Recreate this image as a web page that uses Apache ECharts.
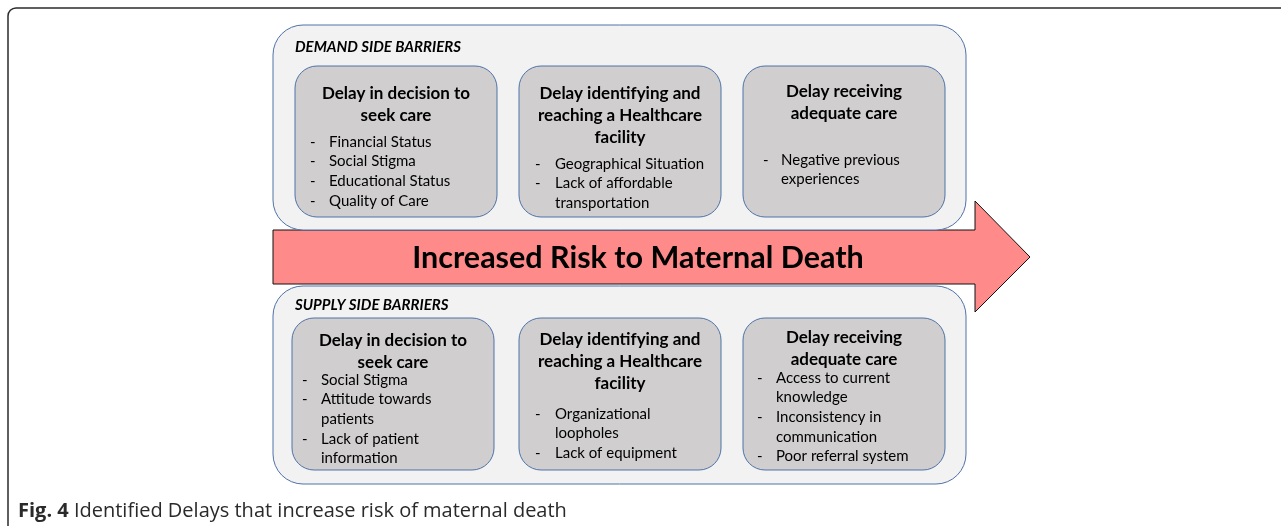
<!DOCTYPE html>
<html>
<head>
<meta charset="utf-8">
<script src="https://cdn.jsdelivr.net/npm/echarts@6/dist/echarts.min.js"></script>
<style>
  html, body { margin: 0; padding: 0; background: #fff; }
  #main { width: 1281px; height: 526px; }
</style>
</head>
<body>
<div id="main"></div>
<script>
// text content of the diagram
var panelLabels = ["DEMAND SIDE BARRIERS", "SUPPLY SIDE BARRIERS"];
var delayTitles = [
  "Delay in decision to\nseek care",
  "Delay identifying and\nreaching a Healthcare\nfacility",
  "Delay receiving\nadequate care"
];
var demandItems = [
  ["Financial Status", "Social Stigma", "Educational Status", "Quality of Care"],
  ["Geographical Situation", "Lack of affordable\ntransportation"],
  ["Negative previous\nexperiences"]
];
var supplyItems = [
  ["Social Stigma", "Attitude towards\npatients", "Lack of patient\ninformation"],
  ["Organizational\nloopholes", "Lack of equipment"],
  ["Access to current\nknowledge", "Inconsistency in\ncommunication", "Poor referral system"]
];
var arrowText = "Increased Risk to Maternal Death";
var captionBold = "Fig. 4";
var captionText = " Identified Delays that increase risk of maternal death";

// layout
var FONT = "Lato, 'Open Sans', sans-serif";
var CAPFONT = "'Open Sans', sans-serif";
var panels = [
  { top: 25, bottom: 230, labelY: 47, items: demandItems,
    boxTop: 66, boxBottom: 217, boxLeft: [295, 519, 743],
    titleY: [94, 94, 92], itemY: [142, 164, 160],
    dash: [15, 16, 20], indent: [34, 36, 38] },
  { top: 286, bottom: 484, labelY: 305, items: supplyItems,
    boxTop: 318, boxBottom: 470, boxLeft: [292, 519, 743],
    titleY: [341, 340, 338], itemY: [380, 414, 378],
    dash: [10, 16, 14], indent: [29, 36, 33] }
];
var panelLeft = 273, panelRight = 966, boxW = 202;
var titleLH = 22, itemLH = 19.6;

var els = [];

// outer frame
els.push({
  type: "rect",
  shape: { x: 8, y: 8, width: 1300, height: 560, r: 8 },
  style: { fill: "#fff", stroke: "#2b2b2b", lineWidth: 1.5 }
});

// big arrow
els.push({
  type: "polygon",
  shape: { points: [[273, 230], [975, 230], [975, 201], [1030, 257], [975, 312], [975, 284], [273, 284]] },
  style: { fill: "#ff8a8a", stroke: "#111", lineWidth: 1 }
});
els.push({
  type: "text",
  style: { text: arrowText, x: 638, y: 258, fill: "#000",
    font: "bold 30.5px " + FONT, textAlign: "center", textVerticalAlign: "middle" }
});

panels.forEach(function (p, pi) {
  els.push({
    type: "rect",
    shape: { x: panelLeft, y: p.top, width: panelRight - panelLeft, height: p.bottom - p.top, r: 30 },
    style: { fill: "#f2f2f2", stroke: "#4f72a8", lineWidth: 1 }
  });
  els.push({
    type: "text",
    style: { text: panelLabels[pi], x: 295, y: p.labelY, fill: "#000",
      font: "italic bold 15px " + FONT, textAlign: "left", textVerticalAlign: "middle" }
  });
  delayTitles.forEach(function (title, bi) {
    var left = p.boxLeft[bi];
    els.push({
      type: "rect",
      shape: { x: left, y: p.boxTop, width: boxW, height: p.boxBottom - p.boxTop, r: 22 },
      style: { fill: "#d0cece", stroke: "#4f72a8", lineWidth: 1 }
    });
    title.split("\n").forEach(function (line, li) {
      els.push({
        type: "text",
        style: { text: line, x: left + boxW / 2, y: p.titleY[bi] + li * titleLH, fill: "#000",
          font: "bold 17px " + FONT, textAlign: "center", textVerticalAlign: "middle" }
      });
    });
    var row = 0;
    p.items[bi].forEach(function (item) {
      item.split("\n").forEach(function (line, li) {
        var y = p.itemY[bi] + row * itemLH;
        if (li === 0) {
          els.push({
            type: "text",
            style: { text: "-", x: left + p.dash[bi], y: y, fill: "#000",
              font: "15px " + FONT, textAlign: "left", textVerticalAlign: "middle" }
          });
        }
        els.push({
          type: "text",
          style: { text: line, x: left + p.indent[bi], y: y, fill: "#000",
            font: "15px " + FONT, textAlign: "left", textVerticalAlign: "middle" }
        });
        row++;
      });
    });
  });
});

// caption
els.push({
  type: "text",
  style: {
    text: "{b|" + captionBold + "}" + captionText,
    x: 18, y: 511, fill: "#2a2a2a", font: "20px " + CAPFONT,
    textAlign: "left", textVerticalAlign: "middle",
    rich: { b: { fontWeight: "bold", fontSize: 20, fontFamily: CAPFONT, fill: "#2a2a2a" } }
  }
});

var myChart = echarts.init(document.getElementById("main"));
myChart.setOption({
  animation: false,
  graphic: { elements: els }
});
</script>
</body>
</html>
